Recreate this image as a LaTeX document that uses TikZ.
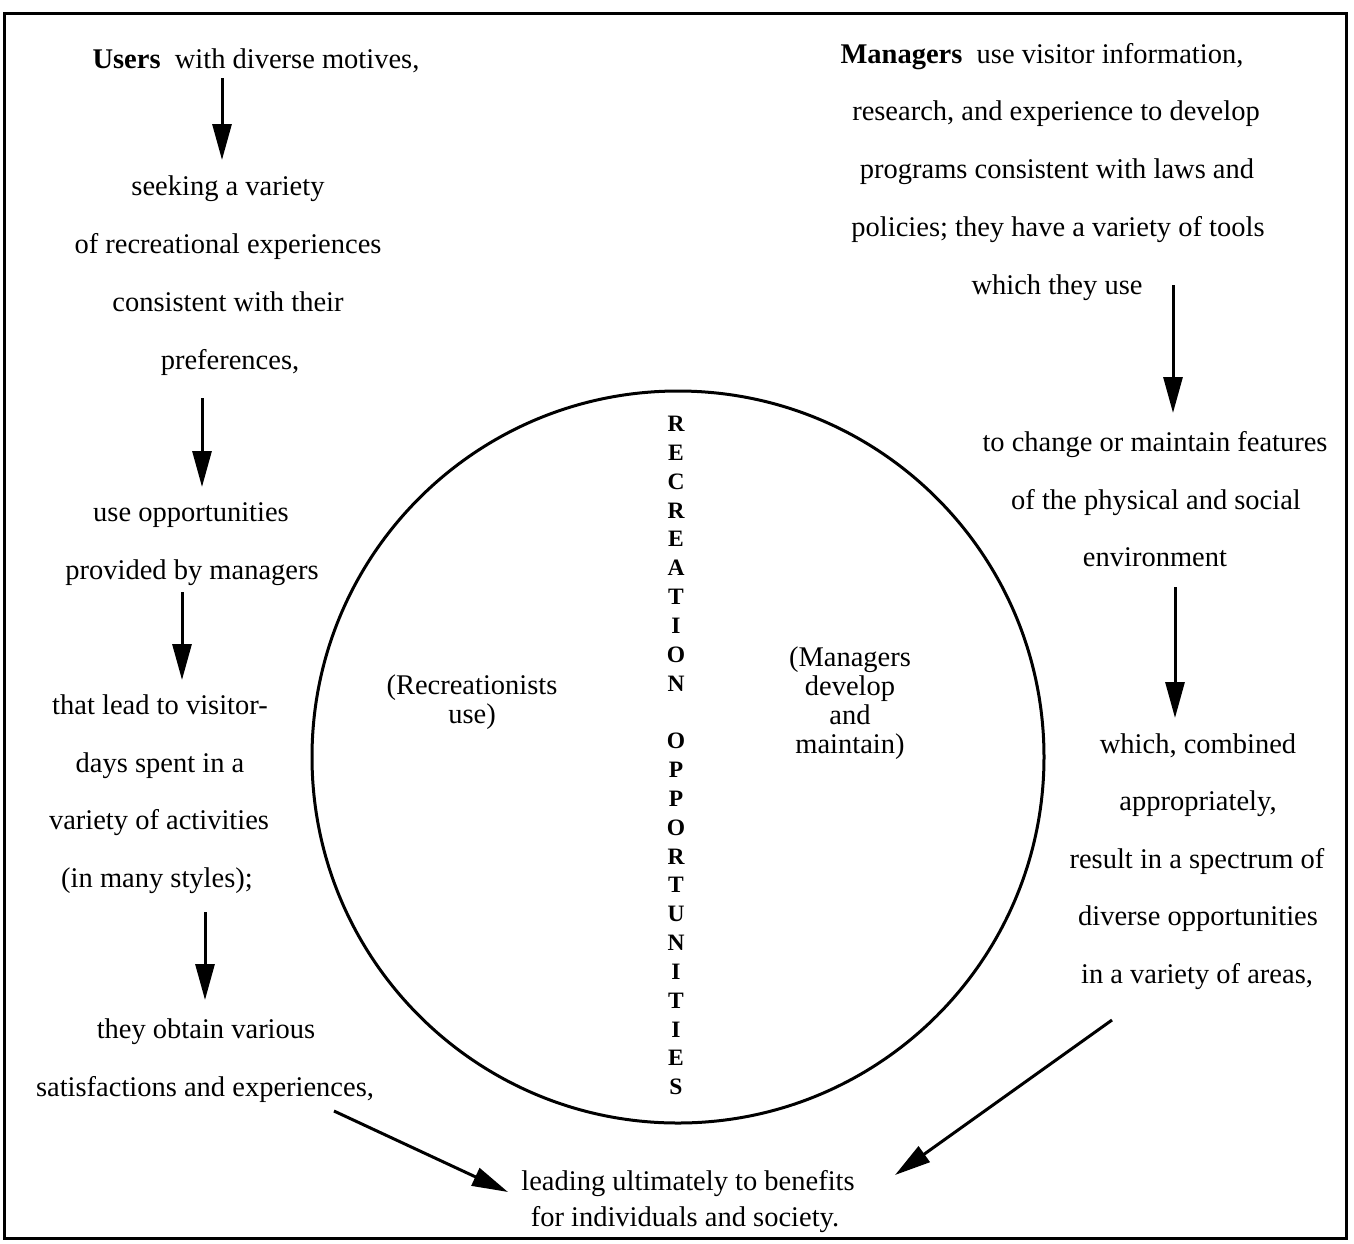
\documentclass[tikz,border=0pt]{standalone}
\usepackage{fontspec}
\setmainfont{Liberation Serif}
\usetikzlibrary{arrows.meta}
\begin{document}
\begin{tikzpicture}[x=1pt,y=-1pt,
  txt/.style={anchor=base,inner sep=0pt,font=\fontsize{28.5}{34}\selectfont},
  inner/.style={align=center,inner sep=0pt,font=\fontsize{28.5}{29}\selectfont},
  flow/.style={line width=3pt,-{Triangle[length=36pt,width=19pt]}},
  frame/.style={line width=3pt}]
\useasboundingbox (0,0) rectangle (1354,1243);
\draw[frame] (4,13) rectangle (1346,1238);

% central circle with vertical title
\node[draw,circle,line width=3pt,minimum size=732pt,inner sep=0pt] (ring) at (678,757) {};
\node[align=center,inner sep=0pt,anchor=north,
      font=\fontsize{23.5}{28.83}\selectfont\bfseries] (title) at (676,416)
  {R\\E\\C\\R\\E\\A\\T\\I\\O\\N\\[28.83pt]O\\P\\P\\O\\R\\T\\U\\N\\I\\T\\I\\E\\S};
\node[inner] (recuse) at (472,702) {(Recreationists\\use)};
\node[inner] (mgrdev) at (850,703) {(Managers\\develop\\and\\maintain)};

% users column
\node[txt] (u1) at (256,68) {\textbf{Users}\ \ with diverse motives,};
\node[txt] (u2) at (228,195) {seeking a variety};
\node[txt] (u3) at (228,253) {of recreational experiences};
\node[txt] (u4) at (228,311) {consistent with their};
\node[txt] (u5) at (230,369) {preferences,};
\node[txt] (u6) at (191,521) {use opportunities};
\node[txt] (u7) at (192,579) {provided by managers};
\node[txt] (u8) at (160,714) {that lead to visitor-};
\node[txt] (u9) at (160,772) {days spent in a};
\node[txt] (u10) at (159,829) {variety of activities};
\node[txt] (u11) at (157,887) {(in many styles);};
\node[txt] (u12) at (206,1038) {they obtain various};
\node[txt] (u13) at (205,1096) {satisfactions and experiences,};

% managers column
\node[txt] (m1) at (1042,63) {\textbf{Managers}\ \ use visitor information,};
\node[txt] (m2) at (1056,120) {research, and experience to develop};
\node[txt] (m3) at (1057,178) {programs consistent with laws and};
\node[txt] (m4) at (1058,236) {policies; they have a variety of tools};
\node[txt] (m5) at (1057,294) {which they use};
\node[txt] (m6) at (1155,451) {to change or maintain features};
\node[txt] (m7) at (1156,509) {of the physical and social};
\node[txt] (m8) at (1155,566) {environment};
\node[txt] (m9) at (1198,753) {which, combined};
\node[txt] (m10) at (1198,810) {appropriately,};
\node[txt] (m11) at (1197,868) {result in a spectrum of};
\node[txt] (m12) at (1198,925) {diverse opportunities};
\node[txt] (m13) at (1197,983) {in a variety of areas,};

% outcome
\node[txt] (b1) at (688,1190) {leading ultimately to benefits};
\node[txt] (b2) at (685,1226) {for individuals and society.};

% arrow end points
\coordinate (a1s) at (222,78);   \coordinate (a1e) at (222,160);
\coordinate (a2s) at (202,398);  \coordinate (a2e) at (202,487);
\coordinate (a3s) at (182,592);  \coordinate (a3e) at (182,680);
\coordinate (a4s) at (205,912);  \coordinate (a4e) at (205,1000);
\coordinate (a5s) at (1173,285); \coordinate (a5e) at (1173,413);
\coordinate (a6s) at (1175,587); \coordinate (a6e) at (1175,718);
\coordinate (d1s) at (334,1111); \coordinate (d1e) at (508,1192);
\coordinate (d2s) at (1112,1020); \coordinate (d2e) at (895,1175);

\draw[flow] (a1s) -- (a1e);
\draw[flow] (a2s) -- (a2e);
\draw[flow] (a3s) -- (a3e);
\draw[flow] (a4s) -- (a4e);
\draw[flow] (a5s) -- (a5e);
\draw[flow] (a6s) -- (a6e);
\draw[flow] (d1s) -- (d1e);
\draw[flow] (d2s) -- (d2e);
\end{tikzpicture}
\end{document}
